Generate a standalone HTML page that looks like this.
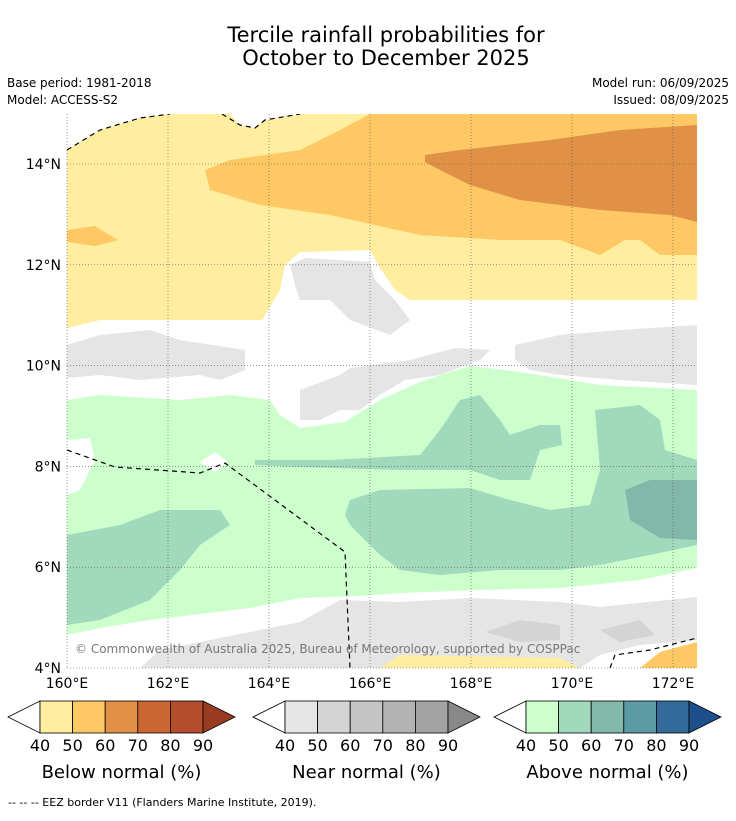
<!DOCTYPE html>
<html><head><meta charset="utf-8"><style>
body{margin:0;background:#fff;width:736px;height:816px;overflow:hidden;font-family:"Liberation Sans","DejaVu Sans",sans-serif}
svg text{font-family:"DejaVu Sans","Liberation Sans",sans-serif}
</style></head><body>
<svg id="s" width="736" height="816" viewBox="0 0 736 816" xmlns="http://www.w3.org/2000/svg">
<text x="386" y="42" font-size="21" text-anchor="middle">Tercile rainfall probabilities for</text>
<text x="386" y="65" font-size="21" text-anchor="middle">October to December 2025</text>
<text x="7" y="87" font-size="12">Base period: 1981-2018</text>
<text x="7" y="104" font-size="12">Model: ACCESS-S2</text>
<text x="729" y="87" font-size="12" text-anchor="end">Model run: 06/09/2025</text>
<text x="729" y="104" font-size="12" text-anchor="end">Issued: 08/09/2025</text>
<defs><clipPath id="mc"><rect x="67" y="114" width="630" height="554"/></clipPath></defs>
<g id="map" clip-path="url(#mc)"></g>
<g id="axes"></g>
<g id="bars"></g>
<text x="8" y="806" font-size="11">--  --  -- EEZ border V11 (Flanders Marine Institute, 2019).</text>
</svg>
<script>
const lonTicks=[160,162,164,166,168,170,172];
const latTicks=[14,12,10,8,6,4];
const binLabels=[40,50,60,70,80,90];
const belowColors=["#ffeda0","#fec965","#e09146","#cc6633","#b34d2b","#993d22"];
const nearColors=["#e5e5e5","#d4d4d4","#c4c4c4","#b3b3b3","#a3a3a3","#888888"];
const aboveColors=["#ccffcc","#a1d9bd","#82b8aa","#5c9ba4","#326b99","#1c4f8c"];
const X=lon=>67+(lon-160)*50.5;
const Y=lat=>164+(14-lat)*50.4;
const NS="http://www.w3.org/2000/svg";
function mk(t,a,p){const e=document.createElementNS(NS,t);for(const k in a)e.setAttribute(k,a[k]);p.appendChild(e);return e;}
const map=document.getElementById('map');
const regions=[
["#ffeda0","below-40-50-north",[[67,114],[697,114],[697,300],[440,300],[410,300],[395,290],[380,268],[370,250],[300,252],[285,265],[280,290],[262,320],[100,320],[67,328]]],
["#ffffff","white-top-left",[[67,114],[230,114],[240,125],[255,128],[265,120],[300,114],[67,114],[67,150],[100,130],[140,118],[170,114]]],
["#fec965","below-50-60",[[370,114],[697,114],[697,255],[660,255],[640,240],[625,240],[600,255],[560,240],[500,240],[420,235],[330,215],[260,205],[210,190],[205,170],[230,160],[300,150],[340,130]]],
["#fec965","below-50-60-west",[[67,230],[95,226],[118,240],[95,246],[67,242]]],
["#e09146","below-60-70",[[425,155],[460,150],[550,140],[620,130],[697,125],[697,222],[670,215],[600,210],[520,200],[470,185],[440,170],[425,162]]],
["#e5e5e5","near-hole-north",[[290,265],[305,258],[370,262],[375,280],[395,300],[410,320],[390,335],[350,320],[330,300],[300,300],[295,285]]],
["#e5e5e5","near-band-west",[[67,345],[100,335],[150,330],[180,340],[245,350],[245,370],[220,380],[200,375],[140,380],[100,375],[67,378]]],
["#e5e5e5","near-band-mid",[[300,390],[340,375],[350,368],[410,360],[455,348],[490,350],[480,360],[440,375],[405,380],[380,395],[360,410],[340,410],[320,420],[300,420]]],
["#e5e5e5","near-band-east",[[515,345],[560,335],[620,330],[697,325],[697,385],[620,380],[560,375],[530,370],[515,360]]],
["#ccffcc","above-40-50",[[67,400],[100,395],[180,400],[230,395],[270,400],[280,415],[300,428],[345,422],[380,400],[420,382],[450,372],[470,366],[520,372],[600,385],[697,390],[697,568],[640,580],[560,588],[480,590],[400,593],[360,596],[300,598],[250,608],[150,620],[100,628],[67,635]]],
["#ffffff","white-west-gap",[[67,440],[90,438],[95,460],[80,490],[67,495]]],
["#ffffff","white-small",[[200,462],[215,452],[228,462],[215,472]]],
["#e5e5e5","near-south",[[140,668],[160,650],[300,622],[340,600],[400,602],[470,598],[560,602],[600,607],[697,597],[697,640],[640,645],[600,655],[580,668]]],
["#d4d4d4","near-50-60-a",[[485,632],[520,620],[560,625],[560,640],[520,642]]],
["#d4d4d4","near-50-60-b",[[600,630],[640,620],[655,635],[620,642]]],
["#ffeda0","below-south",[[380,668],[400,655],[560,658],[580,668]]],
["#fec965","below-south-east",[[640,668],[660,652],[697,642],[697,668]]],
["#a1d9bd","above-50-60-west",[[67,535],[120,525],[160,510],[220,510],[230,525],[200,545],[180,570],[150,600],[100,620],[67,625]]],
["#a1d9bd","above-50-60-band",[[255,460],[330,460],[420,455],[440,430],[460,400],[480,395],[500,420],[510,435],[540,425],[560,425],[562,445],[540,450],[530,480],[500,480],[470,470],[400,470],[300,467],[255,465]]],
["#a1d9bd","above-50-60-east",[[350,500],[380,490],[470,488],[510,500],[550,510],[590,505],[600,470],[595,410],[640,405],[660,420],[665,450],[697,460],[697,545],[650,555],[600,565],[560,570],[500,570],[440,575],[400,570],[380,555],[350,525],[345,515]]],
["#82b8aa","above-60-70",[[625,490],[650,480],[697,480],[697,540],[660,538],[630,520]]]
];
regions.forEach(r=>{
 const p=mk('polygon',{points:r[2].map(q=>q.join(',')).join(' '),fill:r[0]},map);
 
 
});
const eez=[[[67,150],[100,130],[140,118],[170,114]],[[222,114],[240,125],[255,128],[265,120],[300,114]],[[67,450],[115,467],[200,473],[225,463],[345,552],[350,668]],[[610,668],[615,655],[650,650],[697,638]]];
eez.forEach(l=>{
 const e=mk('polyline',{points:l.map(q=>q.join(',')).join(' '),fill:'none',stroke:'#000','stroke-width':1.2,'stroke-dasharray':'5,4'},map);
 
 
});
const ax=document.getElementById('axes');
lonTicks.forEach(v=>{
 mk('line',{x1:X(v),x2:X(v),y1:114,y2:668,stroke:'#555','stroke-width':0.6,'stroke-dasharray':'1,2'},ax);
 const t=mk('text',{x:X(v),y:688,'font-size':14,'text-anchor':'middle'},ax);t.textContent=v+'°E';
 
 
});
latTicks.forEach(v=>{
 mk('line',{x1:67,x2:697,y1:Y(v),y2:Y(v),stroke:'#555','stroke-width':0.6,'stroke-dasharray':'1,2'},ax);
 const t=mk('text',{x:61,y:Y(v)+5,'font-size':14,'text-anchor':'end'},ax);t.textContent=v+'°N';
 
 
});
const c=mk('text',{x:75,y:653,'font-size':12,fill:'#777'},ax);c.textContent='© Commonwealth of Australia 2025, Bureau of Meteorology, supported by COSPPac';


const bars=document.getElementById('bars');
function bar(x0,cols,title,name){
 const g=mk('g',{},bars);
 
 
 const w=32.6,y0=701,h=32,bx=x0+32;
 mk('polygon',{points:`${x0},${y0+h/2} ${bx},${y0} ${bx},${y0+h}`,fill:'#fff',stroke:'#000','stroke-width':0.8},g);
 for(let i=0;i<5;i++)mk('rect',{x:bx+i*w,y:y0,width:w,height:h,fill:cols[i],stroke:'#000','stroke-width':0.8},g);
 const ex=bx+5*w;
 mk('polygon',{points:`${ex},${y0} ${ex+32},${y0+h/2} ${ex},${y0+h}`,fill:cols[5],stroke:'#000','stroke-width':0.8},g);
 binLabels.forEach((l,i)=>{const t=mk('text',{x:bx+i*w,y:751,'font-size':16,'text-anchor':'middle'},g);t.textContent=l;});
 const t=mk('text',{x:bx+2.5*w,y:778,'font-size':18,'text-anchor':'middle'},g);t.textContent=title;
}
bar(8,belowColors,'Below normal (%)','below-normal-colorbar');
bar(253,nearColors,'Near normal (%)','near-normal-colorbar');
bar(494,aboveColors,'Above normal (%)','above-normal-colorbar');
</script>
</body></html>
